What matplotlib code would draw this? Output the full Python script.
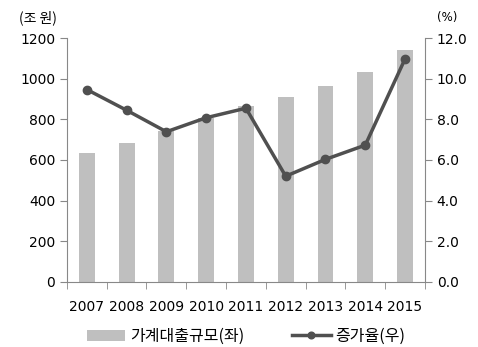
import matplotlib
matplotlib.use('Agg')
import matplotlib.pyplot as plt

plt.rcParams['font.family'] = ['DejaVu Sans', 'Noto Sans CJK KR']

years = ['2007', '2008', '2009', '2010', '2011', '2012', '2013', '2014', '2015']
loans = [632, 684, 741, 805, 865, 911, 962, 1032, 1144]
growth = [9.47, 8.45, 7.39, 8.08, 8.55, 5.20, 6.03, 6.73, 10.98]

fig = plt.figure(figsize=(4.78, 3.47), dpi=100)
ax = fig.add_axes([0.140, 0.188, 0.749, 0.702])
ax2 = ax.twinx()

x = range(len(years))
bars = ax.bar(x, loans, width=0.4, color='#bfbfbf', label='가계대출규모(좌)', zorder=2)
line, = ax2.plot(x, growth, color='#505050', lw=2.5, marker='o', markersize=6,
                 label='증가율(우)', zorder=3)

ax.set_xlim(-0.5, len(years) - 0.5)
ax.set_ylim(0, 1200)
ax.set_yticks(range(0, 1201, 200))
ax2.set_ylim(0, 12)
ax2.set_yticks(range(0, 13, 2))
ax2.set_yticklabels([f'{v:.1f}' for v in range(0, 13, 2)])

ax.set_xticks(list(x))
ax.set_xticklabels(years)
ax.set_xticks([i - 0.5 for i in range(len(years) + 1)], minor=True)
ax.tick_params(axis='x', which='major', length=0, pad=13, labelsize=10)
ax.tick_params(axis='x', which='minor', length=5, direction='out', color='#888888')
ax.tick_params(axis='y', length=5, color='#888888', labelsize=10)
ax2.tick_params(axis='y', length=5, color='#888888', labelsize=10)

for a in (ax, ax2):
    a.spines['top'].set_visible(False)
    for s in ('left', 'right', 'bottom'):
        a.spines[s].set_color('#888888')
ax.spines['right'].set_visible(False)
ax2.spines['left'].set_visible(False)
ax2.spines['bottom'].set_visible(False)

fig.text(0.080, 0.95, '(조 원)', ha='center', va='center', fontsize=10,
         family=['Noto Sans CJK KR', 'DejaVu Sans'])
fig.text(0.935, 0.95, '(%)', ha='center', va='center', fontsize=8.5)

fig.legend([bars, line], ['가계대출규모(좌)', '증가율(우)'], loc='center',
           bbox_to_anchor=(0.515, 0.03), ncol=2, frameon=False,
           handlelength=2.4, columnspacing=3.0, handletextpad=0.3, markerscale=0.8,
           prop={'family': ['Noto Sans CJK KR', 'DejaVu Sans'], 'size': 11.5})

fig.savefig('out.png', dpi=100)
